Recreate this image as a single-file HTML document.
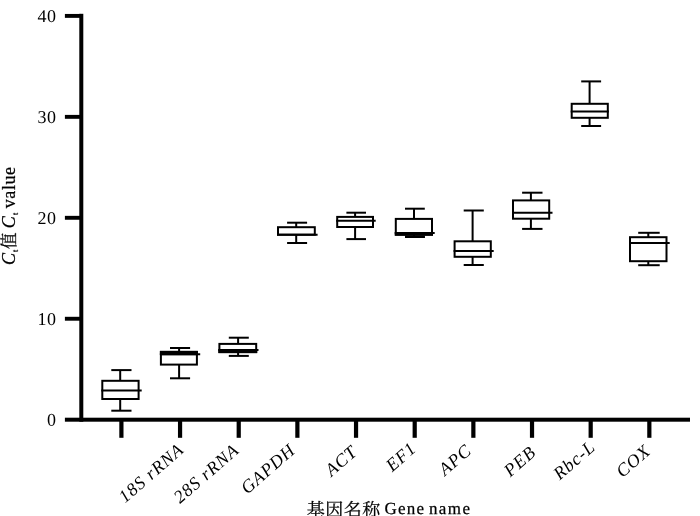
<!DOCTYPE html>
<html lang="zh"><head><meta charset="utf-8"><title>Ct value box plot</title>
<style>
html,body{margin:0;padding:0;background:#fff}
body{width:700px;height:516px;overflow:hidden}
svg{display:block}
text{font-family:"Liberation Serif","Noto Serif CJK SC",serif;font-size:18px;fill:#000}
.it{font-style:italic;letter-spacing:.9px}
.b{stroke:#000;stroke-width:.25px}
.bx line,.bx rect{stroke:#000;stroke-width:2.0;fill:none}
.ax rect{fill:#000}
.bx rect.f{fill:#000;stroke:none}
.cj{font-family:"Noto Serif CJK SC","Liberation Serif",serif}
</style></head><body>
<svg width="700" height="516" viewBox="0 0 700 516">
<rect width="700" height="516" fill="#fff"/>
<g class="ax">
<rect x="79.3" y="13.8" width="4" height="407.9"/>
<rect x="64.9" y="417.7" width="625.1" height="4"/>
<rect x="64.9" y="316.80" width="16" height="3.9"/><rect x="64.9" y="215.85" width="16" height="3.9"/><rect x="64.9" y="114.90" width="16" height="3.9"/><rect x="64.9" y="13.95" width="16" height="3.9"/>
<rect x="119.30" y="419" width="4.2" height="18.8"/><rect x="177.96" y="419" width="4.2" height="18.8"/><rect x="236.62" y="419" width="4.2" height="18.8"/><rect x="295.28" y="419" width="4.2" height="18.8"/><rect x="353.94" y="419" width="4.2" height="18.8"/><rect x="412.60" y="419" width="4.2" height="18.8"/><rect x="471.26" y="419" width="4.2" height="18.8"/><rect x="529.92" y="419" width="4.2" height="18.8"/><rect x="588.58" y="419" width="4.2" height="18.8"/><rect x="647.24" y="419" width="4.2" height="18.8"/>
</g>
<g class="yl"><text transform="translate(56.4,425.8) rotate(.05)" text-anchor="end" style="letter-spacing:.5px">0</text><text transform="translate(56.4,324.9) rotate(.05)" text-anchor="end" style="letter-spacing:.5px">10</text><text transform="translate(56.4,223.9) rotate(.05)" text-anchor="end" style="letter-spacing:.5px">20</text><text transform="translate(56.4,122.9) rotate(.05)" text-anchor="end" style="letter-spacing:.5px">30</text><text transform="translate(56.4,22.0) rotate(.05)" text-anchor="end" style="letter-spacing:.5px">40</text></g>
<g class="bx">
<line x1="120.2" y1="370.1" x2="120.2" y2="380.8"/>
<line x1="120.2" y1="399.0" x2="120.2" y2="410.7"/>
<line x1="111.3" y1="370.1" x2="131.5" y2="370.1"/>
<line x1="111.3" y1="410.7" x2="131.5" y2="410.7"/>
<rect x="102.30" y="380.80" width="36.30" height="18.20"/>
<line x1="101.3" y1="390.5" x2="141.7" y2="390.5"/>
</g>
<g class="bx">
<line x1="179.1" y1="348.0" x2="179.1" y2="351.9"/>
<line x1="179.1" y1="364.6" x2="179.1" y2="378.3"/>
<line x1="170.0" y1="348.0" x2="190.1" y2="348.0"/>
<line x1="170.0" y1="378.3" x2="190.1" y2="378.3"/>
<rect x="160.90" y="351.90" width="36.00" height="12.70"/>
<line x1="159.9" y1="354.2" x2="200.2" y2="354.2"/>
<rect class="f" x="159.9" y="350.9" width="38.00" height="4.30"/>
</g>
<g class="bx">
<line x1="238.1" y1="337.7" x2="238.1" y2="343.9"/>
<line x1="238.1" y1="352.1" x2="238.1" y2="355.9"/>
<line x1="228.8" y1="337.7" x2="248.8" y2="337.7"/>
<line x1="228.8" y1="355.9" x2="248.8" y2="355.9"/>
<rect x="219.40" y="343.90" width="36.80" height="8.20"/>
<line x1="218.4" y1="350.05" x2="258.5" y2="350.05"/>
<rect class="f" x="218.4" y="349.05" width="38.80" height="4.05"/>
</g>
<g class="bx">
<line x1="296.2" y1="222.7" x2="296.2" y2="227.2"/>
<line x1="296.2" y1="234.7" x2="296.2" y2="243.0"/>
<line x1="287.1" y1="222.7" x2="307.1" y2="222.7"/>
<line x1="287.1" y1="243.0" x2="307.1" y2="243.0"/>
<rect x="278.00" y="227.20" width="36.80" height="7.50"/>
<line x1="277.0" y1="234.7" x2="317.6" y2="234.7"/>
</g>
<g class="bx">
<line x1="355.1" y1="212.7" x2="355.1" y2="216.9"/>
<line x1="355.1" y1="227.0" x2="355.1" y2="239.1"/>
<line x1="346.4" y1="212.7" x2="366.0" y2="212.7"/>
<line x1="346.4" y1="239.1" x2="366.0" y2="239.1"/>
<rect x="337.20" y="216.90" width="35.80" height="10.10"/>
<line x1="336.2" y1="220.8" x2="375.7" y2="220.8"/>
</g>
<g class="bx">
<line x1="414.0" y1="208.7" x2="414.0" y2="218.9"/>
<line x1="414.0" y1="234.7" x2="414.0" y2="237.0"/>
<line x1="405.0" y1="208.7" x2="424.8" y2="208.7"/>
<line x1="405.0" y1="237.0" x2="424.8" y2="237.0"/>
<rect x="395.80" y="218.90" width="36.20" height="15.80"/>
<line x1="394.8" y1="233.0" x2="434.7" y2="233.0"/>
<rect class="f" x="394.8" y="232.0" width="38.20" height="3.70"/>
<rect class="f" x="405.0" y="235.50" width="19.80" height="2.50"/>
</g>
<g class="bx">
<line x1="472.6" y1="210.5" x2="472.6" y2="241.3"/>
<line x1="472.6" y1="256.8" x2="472.6" y2="265.0"/>
<line x1="463.7" y1="210.5" x2="483.8" y2="210.5"/>
<line x1="463.7" y1="265.0" x2="483.8" y2="265.0"/>
<rect x="454.60" y="241.30" width="36.20" height="15.50"/>
<line x1="453.6" y1="250.9" x2="493.7" y2="250.9"/>
</g>
<g class="bx">
<line x1="530.9" y1="192.7" x2="530.9" y2="200.4"/>
<line x1="530.9" y1="218.7" x2="530.9" y2="228.9"/>
<line x1="522.1" y1="192.7" x2="542.5" y2="192.7"/>
<line x1="522.1" y1="228.9" x2="542.5" y2="228.9"/>
<rect x="513.00" y="200.40" width="36.20" height="18.30"/>
<line x1="512.0" y1="212.8" x2="552.5" y2="212.8"/>
</g>
<g class="bx">
<line x1="589.6" y1="81.4" x2="589.6" y2="103.8"/>
<line x1="589.6" y1="117.8" x2="589.6" y2="126.0"/>
<line x1="581.2" y1="81.4" x2="601.1" y2="81.4"/>
<line x1="581.2" y1="126.0" x2="601.1" y2="126.0"/>
<rect x="571.70" y="103.80" width="36.10" height="14.00"/>
<line x1="570.7" y1="111.5" x2="608.8" y2="111.5"/>
</g>
<g class="bx">
<line x1="648.3" y1="232.8" x2="648.3" y2="237.2"/>
<line x1="648.3" y1="261.2" x2="648.3" y2="265.2"/>
<line x1="638.2" y1="232.8" x2="659.7" y2="232.8"/>
<line x1="638.2" y1="265.2" x2="659.7" y2="265.2"/>
<rect x="630.00" y="237.20" width="36.50" height="24.00"/>
<line x1="629.0" y1="243.0" x2="669.7" y2="243.0"/>
</g>
<g class="xl">
<text class="it" text-anchor="end" transform="translate(185.1,451.2) rotate(-41)">18S rRNA</text>
<text class="it" text-anchor="end" transform="translate(240.2,451.8) rotate(-41)">28S rRNA</text>
<text class="it" text-anchor="end" transform="translate(296.6,451.8) rotate(-41)">GAPDH</text>
<text class="it" text-anchor="end" transform="translate(358.5,453.6) rotate(-41)">ACT</text>
<text class="it" text-anchor="end" transform="translate(417.6,450.1) rotate(-41)">EF1</text>
<text class="it" text-anchor="end" transform="translate(472.8,452.2) rotate(-41)">APC</text>
<text class="it" text-anchor="end" transform="translate(537.3,454.0) rotate(-41)">PEB</text>
<text class="it" text-anchor="end" transform="translate(596.4,448.7) rotate(-41)">Rbc-L</text>
<text class="it" text-anchor="end" transform="translate(651.8,452.8) rotate(-41)">COX</text>
</g>
<text class="b" transform="translate(14.6,264.5) rotate(-90)"><tspan x="-0.5" font-style="italic">C</tspan><tspan x="12.5" y="3.1" font-size="8">t</tspan><tspan class="cj" x="15.4" y="0" font-size="16.5">值 </tspan><tspan x="36.3" font-style="italic">C</tspan><tspan x="49.6" y="3.1" font-size="8">t </tspan><tspan x="56.3" y="0" style="letter-spacing:.55px">value</tspan></text>
<text class="b cj" transform="translate(306.8,516) rotate(.05)" style="letter-spacing:.5px">基因名称</text>
<text class="b" transform="translate(0,513.6) rotate(.05)" style="letter-spacing:1.2px;font-size:17px"><tspan x="384.5">Gene </tspan><tspan x="428.9" style="letter-spacing:1.45px">name</tspan></text>
</svg>
</body></html>
